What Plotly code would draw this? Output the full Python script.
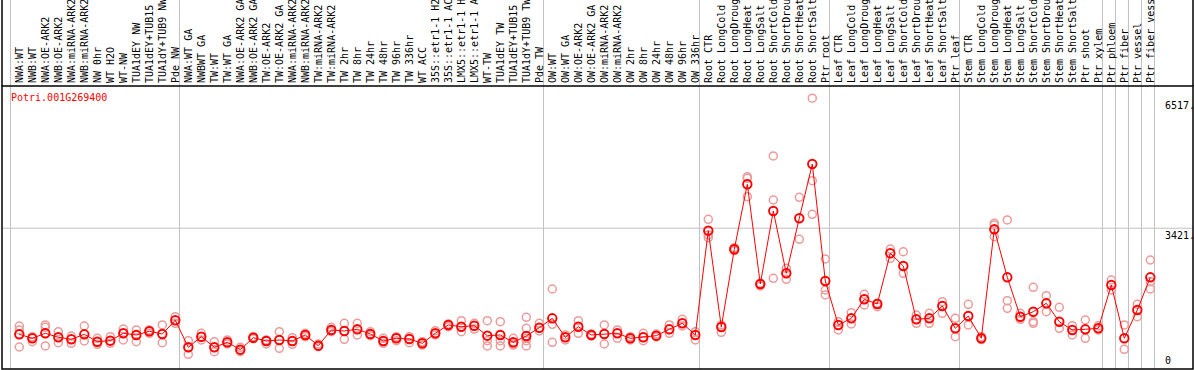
import plotly.graph_objects as go

gene = "Potri.001G269400"

labels = [
    "NWA:WT", "NWB:WT", "NWA:OE-ARK2", "NWB:OE-ARK2", "NWA:miRNA-ARK2", "NWB:miRNA-ARK2",
    "NW 0hr", "WT H2O", "WT-NW", "TUA1dEY NW", "TUA1dEY+TUB15 NW", "TUA1dY+TUB9 NW", "Pde NW",
    "NWA:WT GA", "NWBWT GA", "TW:WT", "TW:WT GA", "NWA:OE-ARK2 GA", "NWB:OE-ARK2 GA",
    "TW:OE-ARK2", "TW:OE-ARK2 GA", "NWA:miRNA-ARK2 GA", "NWB:miRNA-ARK2 GA", "TW:miRNA-ARK2",
    "TW:miRNA-ARK2 GA", "TW 2hr", "TW 8hr", "TW 24hr", "TW 48hr", "TW 96hr", "TW 336hr",
    "WT ACC", "35S::etr1-1 H2O", "35S::etr1-1 ACC", "LMX5::etr1-1 H2O", "LMX5::etr1-1 ACC",
    "WT-TW", "TUA1dEY TW", "TUA1dEY+TUB15 TW", "TUA1dY+TUB9 TW", "Pde TW",
    "OW:WT", "OW:WT GA", "OW:OE-ARK2", "OW:OE-ARK2 GA", "OW:miRNA-ARK2", "OW:miRNA-ARK2 GA",
    "OW 2hr", "OW 8hr", "OW 24hr", "OW 48hr", "OW 96hr", "OW 336hr",
    "Root CTR", "Root LongCold", "Root LongDrought", "Root LongHeat", "Root LongSalt",
    "Root ShortCold", "Root ShortDrought", "Root ShortHeat", "Root ShortSalt", "Ptr root",
    "Leaf CTR", "Leaf LongCold", "Leaf LongDrought", "Leaf LongHeat", "Leaf LongSalt",
    "Leaf ShortCold", "Leaf ShortDrought", "Leaf ShortHeat", "Leaf ShortSalt", "Ptr leaf",
    "Stem CTR", "Stem LongCold", "Stem LongDrought", "Stem LongHeat", "Stem LongSalt",
    "Stem ShortCold", "Stem ShortDrought", "Stem ShortHeat", "Stem ShortSalt", "Ptr shoot",
    "Ptr xylem", "Ptr phloem", "Ptr fiber", "Ptr vessel", "Ptr fiber vessel",
]

means = [
    895, 800, 919, 824, 776, 895, 719, 743, 919, 879, 967, 902, 1229,
    586, 838, 586, 705, 529, 814, 736, 760, 736, 879, 624, 998, 974, 1014, 902,
    736, 800, 783, 681, 919, 1117, 1076, 1100, 862, 879, 705, 855, 1052,
    1276, 824, 1076, 879, 902, 919, 800, 824, 862, 1014, 1157, 879,
    3362, 1069, 2919, 4467, 2093, 3831, 2348, 3657, 4950, 2164,
    1117, 1276, 1729, 1617, 2824, 2521, 1252, 1276, 1569, 1038,
    1331, 800, 3395, 2252, 1314, 1433, 1633, 1195, 998, 1014,
    1038, 2069, 800, 1474, 2252,
]

replicates = [
    [1093, 998, 593], [838, 719], [1117, 1062, 617], [957, 695], [855, 681],
    [1093, 736], [800, 657], [838, 681], [1021, 760], [998, 719], [998, 919],
    [1117, 695], [1314, 1157],
    [743, 419], [919, 760], [719, 481], [760, 664], [586, 481], [838, 790],
    [760, 664], [957, 562], [814, 657], [919, 838], [664, 600], [1062, 957],
    [1157, 776], [1157, 879], [957, 862], [800, 681], [838, 743], [838, 695],
    [719, 640], [981, 879], [1141, 1076], [1219, 957], [1157, 1021],
    [1219, 743, 617], [1195, 743, 617], [800, 664, 640], [1300, 1038, 800, 743, 617],
    [1157, 974],
    [1974, 1133, 705], [879, 760], [1219, 919], [902, 855], [1117, 664], [998, 800],
    [838, 760], [919, 743], [902, 831], [1117, 919], [1252, 1093], [957, 760],
    [3633, 3260, 3195], [1117, 943], [2957, 2886], [4648, 4610, 4172], [2110, 2045],
    [5141, 4093, 2229], [2467, 2205], [4157, 3157], [6517, 4552, 3752], [2688, 1950, 1831],
    [1195, 998], [1410, 1141], [1848, 1593], [1633, 1552], [2926, 2705],
    [2862, 2348], [1355, 1157], [1395, 1157], [1671, 1395], [1276, 838],
    [1610, 1117], [838, 771], [3538, 3498, 3219], [3617, 1695, 1514], [1395, 1252],
    [2014, 1195, 1157], [1814, 1433], [1538, 1038], [1100, 879], [1236, 800],
    [1100, 998], [2188, 1950], [1117, 538], [1610, 1314], [2664, 2148, 1974],
]

axis_labels = [6517, 3421, 0]
group_bounds = [0, 13, 41, 53, 63, 73, 84, 85, 86, 87, 88]

# the header only has room for 14 characters; the reference shows the clipped form
shown_labels = [lab[:14].rstrip() for lab in labels]

xs = list(range(len(labels)))
rep_x = [i for i, r in zip(xs, replicates) for _ in r]
rep_y = [v for r in replicates for v in r]

MONO = "DejaVu Sans Mono"
GRID = "#c0c0c0"

fig = go.Figure()
fig.add_trace(go.Scatter(
    x=rep_x, y=rep_y, mode="markers",
    marker=dict(symbol="circle-open", size=8, color="#ec9a9a", line=dict(width=1.5)),
    hoverinfo="skip", showlegend=False,
))
fig.add_trace(go.Scatter(
    x=xs, y=means, mode="lines+markers",
    line=dict(color="#ff0000", width=1),
    marker=dict(symbol="circle-open", size=8.5, color="#ff0000", line=dict(width=1.9)),
    showlegend=False,
))

shapes = []
for k in group_bounds:
    shapes.append(dict(type="line", xref="x", yref="paper", x0=k - 0.68, x1=k - 0.68,
                       y0=0, y1=1.31, line=dict(color=GRID, width=1), layer="below"))
shapes.append(dict(type="line", xref="paper", yref="y", x0=0, x1=1, y0=axis_labels[1],
                   y1=axis_labels[1], line=dict(color=GRID, width=1), layer="below"))
shapes.append(dict(type="rect", xref="paper", yref="paper", x0=0, x1=1, y0=0, y1=1,
                   line=dict(color="black", width=1.5)))
for xp in (0, 1):
    shapes.append(dict(type="line", xref="paper", yref="paper", x0=xp, x1=xp, y0=1, y1=1.31,
                       line=dict(color="black", width=1.5)))

annotations = [
    dict(text=gene, xref="paper", yref="paper", x=0.0055, y=0.985, xanchor="left",
         yanchor="top", showarrow=False, font=dict(family=MONO, size=10, color="#ff0000")),
    dict(text=f"{axis_labels[0]}.", xref="paper", yref="y", x=0.9748, y=axis_labels[0],
         xanchor="left", yanchor="top", showarrow=False, font=dict(family=MONO, size=10, color="black")),
    dict(text=f"{axis_labels[1]}.", xref="paper", yref="y", x=0.9748, y=axis_labels[1],
         xanchor="left", yanchor="top", showarrow=False, font=dict(family=MONO, size=10, color="black")),
    dict(text=f"{axis_labels[2]}", xref="paper", yref="paper", x=0.9748, y=0.0,
         xanchor="left", yanchor="bottom", yshift=1, showarrow=False,
         font=dict(family=MONO, size=10, color="black")),
]

fig.update_layout(
    width=1194, height=370,
    margin=dict(l=2, r=1, t=86, b=1, pad=0),
    paper_bgcolor="white", plot_bgcolor="white",
    xaxis=dict(range=[-1.3308, 90.285], side="top", tickmode="array", tickvals=xs,
               ticktext=shown_labels, tickangle=-90, ticks="", showgrid=False, zeroline=False,
               showline=False, automargin=False, ticklabelstandoff=2,
               tickfont=dict(family=MONO, size=10, color="black")),
    yaxis=dict(range=[69, 6807], showticklabels=False, showgrid=False, zeroline=False,
               showline=False, automargin=False),
    shapes=shapes, annotations=annotations,
)

fig.write_html(
    "out.html",
    config={"displayModeBar": False},
    post_script="document.body.style.margin='0';document.body.style.overflow='hidden';",
)
